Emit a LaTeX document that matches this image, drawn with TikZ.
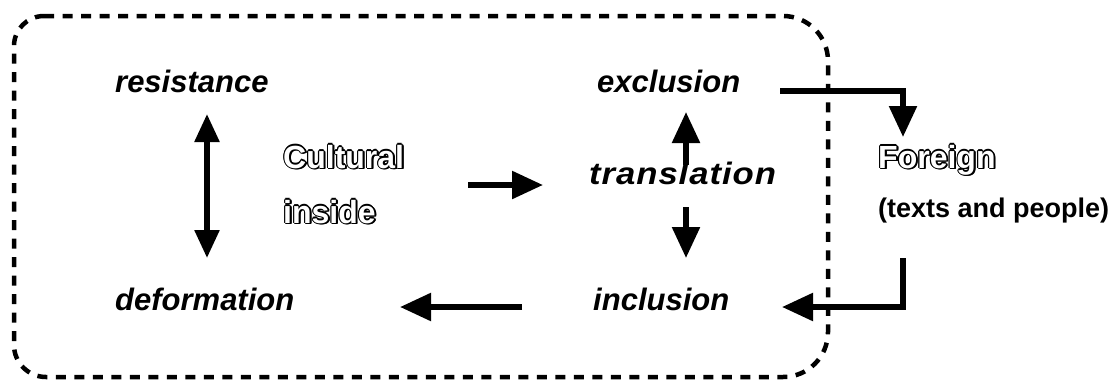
\documentclass[tikz,border=0pt]{standalone}
\usepackage{fontspec}
\setmainfont{Liberation Sans}
\usetikzlibrary{arrows.meta}

% one offset copy of a word, taking no width
\newcommand\olcopy[3]{\rlap{\hspace*{#1}\raisebox{#2}{#3}}}
% hollow letters: black copies around the word, a shadow to the lower right, white on top
\newcommand\hollow[1]{%
  \olcopy{-1.1pt}{0pt}{#1}\olcopy{1.1pt}{0pt}{#1}%
  \olcopy{0pt}{1.1pt}{#1}\olcopy{0pt}{-1.1pt}{#1}%
  \olcopy{.8pt}{.8pt}{#1}\olcopy{-.8pt}{.8pt}{#1}%
  \olcopy{.8pt}{-.8pt}{#1}\olcopy{-.8pt}{-.8pt}{#1}%
  \olcopy{1.8pt}{-1.3pt}{#1}\olcopy{1.4pt}{-1.7pt}{#1}\olcopy{1.9pt}{-.7pt}{#1}%
  \textcolor{white}{#1}}

\begin{document}
\begin{tikzpicture}[x=1pt,y=-1pt,
  lbl/.style={font=\fontsize{31}{36}\selectfont\bfseries\itshape,
              anchor=base west, inner sep=0pt},
  hol/.style={font=\fontsize{32}{36}\selectfont\bfseries,
              anchor=base west, inner sep=0pt},
  note/.style={font=\fontsize{27}{30}\selectfont\bfseries,
              anchor=base west, inner sep=0pt},
  conn/.style={line width=5.5pt, line join=miter,
               -{Triangle[length=31pt,width=27pt]}},
  both/.style={line width=5.5pt,
               {Triangle[length=28pt,width=24pt]}-{Triangle[length=28pt,width=24pt]}},
  frame/.style={line width=4.5pt, dash pattern=on 10pt off 8.5pt}
]
\useasboundingbox (0,0) rectangle (1113,386);

% frame round the cultural inside
\draw[frame] (44,16) -- (783,16)
  arc[start angle=90,end angle=0,radius=45pt] -- (828,332)
  arc[start angle=0,end angle=-90,radius=45pt] -- (46,377)
  arc[start angle=270,end angle=180,radius=32pt] -- (14,46)
  arc[start angle=180,end angle=90,radius=30pt] -- cycle;

% labels
\node[lbl] (res) at (115,92) {resistance};
\node[lbl] (exc) at (597,92) {exclusion};
\node[lbl, font=\fontsize{31}{36}\selectfont\bfseries\itshape\addfontfeature{FakeStretch=1.12,LetterSpace=3}]
      (tra) at (589,184) {translation};
\node[lbl] (def) at (115,310) {deformation};
\node[lbl] (inc) at (593,310) {inclusion};
\node[hol] (cul) at (283,168) {\hollow{Cultural}};
\node[hol] (ins) at (283,223) {\hollow{inside}};
\node[hol] (for) at (878,168) {\hollow{Foreign}};
\node[note] (tap) at (878,217) {(texts and people)};

% arrow ends
\coordinate (rd-top) at (207,114);
\coordinate (rd-bot) at (207,258);
\coordinate (ci-from) at (468,185);
\coordinate (ci-to) at (543,185);
\coordinate (up-from) at (686,165);
\coordinate (up-to) at (686,112);
\coordinate (dn-from) at (686,207);
\coordinate (dn-to) at (686,258);
\coordinate (id-from) at (522,307);
\coordinate (id-to) at (400,307);
\coordinate (ef-from) at (780,91);
\coordinate (ef-to) at (903,137);
\coordinate (fi-from) at (903,258);
\coordinate (fi-to) at (782,307);

% connectors
\draw[both] (rd-top) -- (rd-bot);
\draw[conn] (ci-from) -- (ci-to);
\draw[conn] (up-from) -- (up-to);
\draw[conn] (dn-from) -- (dn-to);
\draw[conn] (id-from) -- (id-to);
\draw[conn] (ef-from) -| (ef-to);
\draw[conn] (fi-from) |- (fi-to);
\end{tikzpicture}
\end{document}
